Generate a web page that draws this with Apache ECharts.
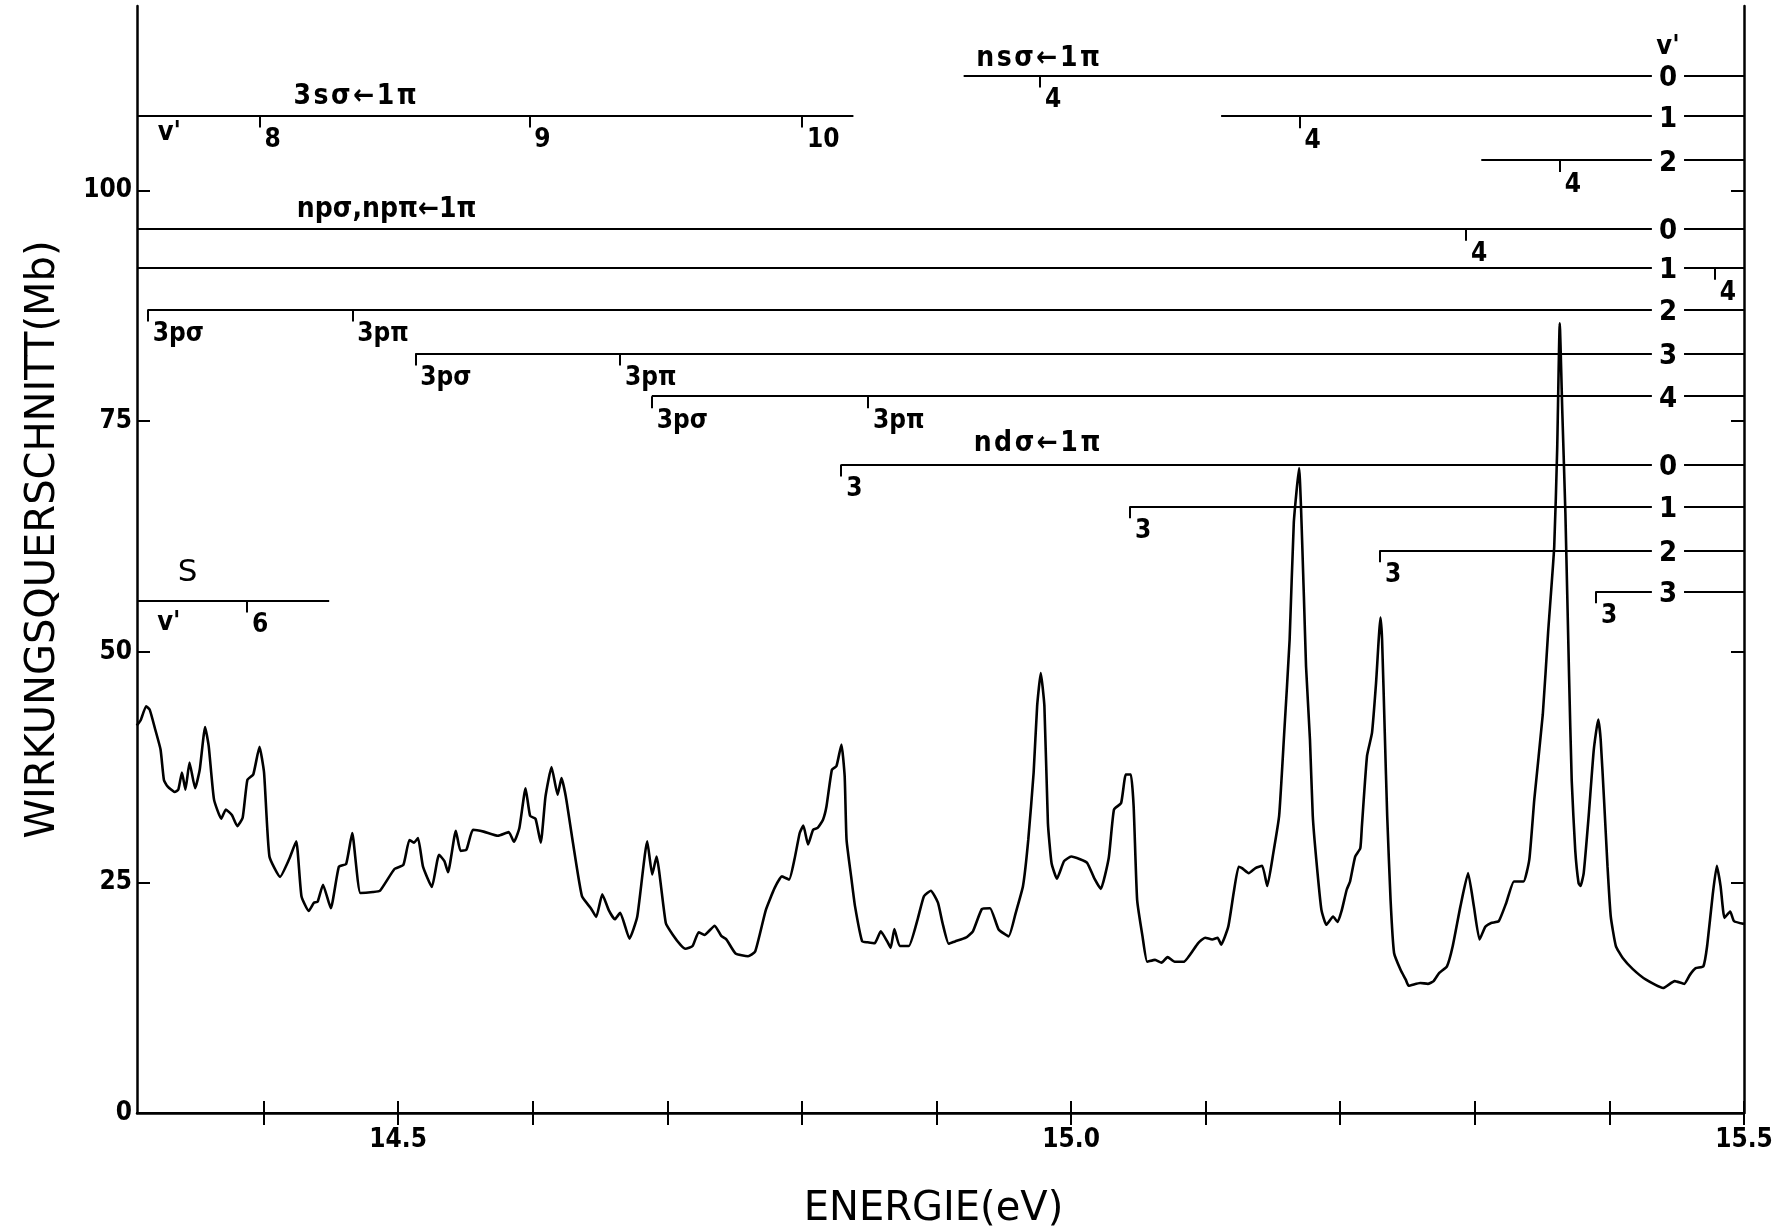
<!DOCTYPE html>
<html><head><meta charset="utf-8">
<script src="https://cdn.jsdelivr.net/npm/echarts@6/dist/echarts.min.js"></script>
<style>html,body{margin:0;padding:0;background:#fff}#c{width:1779px;height:1227px}</style>
</head><body><div id="c"></div>
<script>
// ---------- spectrum ----------
const energy = [
14.3058,14.3088,14.3128,14.3155,14.3195,14.3235,14.3260,14.3287,14.3340,14.3367,
14.3394,14.3420,14.3450,14.3492,14.3526,14.3566,14.3593,14.3632,14.3686,14.3720,
14.3765,14.3805,14.3845,14.3880,14.3924,14.3970,14.4004,14.4044,14.4123,14.4190,
14.4243,14.4282,14.4336,14.4375,14.4402,14.4442,14.4500,14.4560,14.4614,14.4659,
14.4720,14.4813,14.4866,14.4973,14.5039,14.5084,14.5118,14.5148,14.5185,14.5251,
14.5304,14.5344,14.5371,14.5429,14.5464,14.5508,14.5556,14.5636,14.5742,14.5822,
14.5861,14.5901,14.5947,14.5981,14.6021,14.6060,14.6095,14.6140,14.6185,14.6214,
14.6246,14.6299,14.6366,14.6432,14.6472,14.6517,14.6565,14.6610,14.6650,14.6719,
14.6777,14.6851,14.6888,14.6920,14.6989,14.7042,14.7100,14.7135,14.7188,14.7233,
14.7276,14.7352,14.7401,14.7440,14.7507,14.7600,14.7653,14.7732,14.7798,14.7852,
14.7905,14.7945,14.7984,14.8011,14.8046,14.8083,14.8117,14.8157,14.8183,14.8223,
14.8257,14.8294,14.8318,14.8332,14.8369,14.8395,14.8448,14.8488,14.8541,14.8586,
14.8634,14.8660,14.8687,14.8727,14.8794,14.8860,14.8907,14.8958,14.9011,14.9045,
14.9091,14.9138,14.9218,14.9271,14.9337,14.9398,14.9462,14.9536,14.9589,14.9643,
14.9682,14.9722,14.9748,14.9775,14.9802,14.9828,14.9855,14.9895,14.9948,15.0001,
15.0067,15.0120,15.0174,15.0221,15.0280,15.0319,15.0372,15.0407,15.0444,15.0465,
15.0491,15.0531,15.0566,15.0624,15.0672,15.0717,15.0770,15.0837,15.0943,15.0996,
15.1049,15.1089,15.1115,15.1168,15.1208,15.1245,15.1270,15.1320,15.1370,15.1420,
15.1458,15.1503,15.1546,15.1583,15.1624,15.1655,15.1694,15.1730,15.1746,15.1775,
15.1796,15.1822,15.1860,15.1897,15.1947,15.1980,15.2010,15.2048,15.2073,15.2111,
15.2149,15.2161,15.2199,15.2236,15.2266,15.2299,15.2311,15.2331,15.2349,15.2374,
15.2400,15.2449,15.2487,15.2508,15.2594,15.2651,15.2694,15.2736,15.2793,15.2836,
15.2893,15.2950,15.2993,15.3035,15.3078,15.3121,15.3178,15.3234,15.3291,15.3362,
15.3405,15.3442,15.3505,15.3545,15.3590,15.3612,15.3631,15.3650,15.3673,15.3700,
15.3720,15.3746,15.3771,15.3785,15.3809,15.3846,15.3884,15.3917,15.3935,15.3960,
15.3986,15.4010,15.4048,15.4099,15.4174,15.4272,15.4399,15.4485,15.4556,15.4599,
15.4641,15.4698,15.4726,15.4769,15.4798,15.4826,15.4855,15.4897,15.4926,15.5000
];
const sigma = [
42.0,42.6,44.1,43.7,41.6,39.4,36.1,35.4,34.8,35.05,
36.9,35.05,38.0,35.2,37.2,41.85,39.75,34.0,31.9,32.9,
32.3,31.1,32.0,36.1,36.7,39.7,36.9,27.8,25.6,27.5,
29.45,23.5,21.9,22.8,22.9,24.75,22.2,26.7,27.0,30.35,
23.85,23.95,24.1,26.45,26.9,29.6,29.3,29.8,26.7,24.5,
28.0,27.3,26.1,30.6,28.4,28.55,30.7,30.5,30.05,30.45,
29.4,30.9,35.2,32.2,31.9,29.3,34.3,37.5,34.5,36.3,
34.3,29.3,23.5,22.2,21.25,23.7,22.0,21.0,21.7,18.9,
21.3,29.45,25.85,27.8,20.6,19.3,18.2,17.8,18.1,19.6,
19.3,20.3,19.2,18.8,17.3,17.0,17.5,22.0,24.4,25.65,
25.3,27.5,30.35,31.15,29.1,30.7,30.9,31.8,33.25,37.2,
37.6,39.95,36.5,29.6,25.3,22.4,18.6,18.5,18.4,19.7,
18.6,17.9,19.95,18.1,18.1,21.0,23.5,24.1,22.8,20.6,
18.35,18.6,19.0,19.7,22.1,22.2,19.9,19.15,21.7,24.6,
29.6,36.9,44.1,47.7,44.1,31.45,27.1,25.4,27.3,27.8,
27.5,27.1,25.4,24.3,27.65,32.9,33.6,36.7,36.7,33.25,
23.1,19.15,16.4,16.6,16.3,16.9,16.4,16.4,18.4,19.0,
18.8,19.0,18.25,20.2,23.85,26.7,26.55,26.0,26.55,26.8,
24.6,28.2,32.2,41.0,51.3,64.0,69.9,56.0,48.4,40.5,
32.2,27.5,22.05,20.4,21.3,20.7,21.9,24.2,25.1,27.8,
28.7,31.1,38.7,41.2,46.6,53.7,51.3,41.2,32.2,23.1,
17.35,15.5,14.45,13.8,14.1,14.0,14.3,15.2,15.9,18.1,
22.4,26.0,22.4,18.8,20.2,20.6,20.8,22.8,25.1,25.1,
27.5,34.0,43.2,52.2,61.4,72.0,85.6,76.0,65.0,47.5,
36.0,28.5,24.9,24.6,26.0,32.2,39.4,42.65,40.5,34.0,
26.7,21.3,18.1,16.8,15.6,14.45,13.55,14.3,14.0,15.0,
15.7,15.9,18.1,23.85,26.8,24.6,21.15,21.85,20.8,20.5
];

// ---------- axes ----------
const xMin = 14.306, xMax = 15.5;
const yMin = 0, yMax = 120;
const xTicks = [14.4,14.5,14.6,14.7,14.8,14.9,15.0,15.1,15.2,15.3,15.4,15.5];
const xTickLabels = [14.5,15.0,15.5];
const yTicks = [0,25,50,75,100];
const yRightTicks = [25,50,75,100];

// ---------- term-value progressions ----------
// 3sσ←1π
const s3Level = 108.13;
const s3Span = [14.306, 14.8383];
const s3Marks = [14.3971, 14.5975, 14.8001];
const s3MarkLabels = ['8','9','10'];
// npσ,npπ←1π  (v' = 0..4)
const npLevels = [95.85, 91.62, 87.10, 82.33, 77.70];
const npStarts = [14.306, 14.306, 14.3140, 14.5128, 14.6885];
const npMarkE = [14.3140, 14.4660, 14.5128, 14.6649, 14.6885, 14.8491, 15.2935, 15.4783];
const npMarkV = [2, 2, 3, 3, 4, 4, 0, 1];
const npMarkLabels = ['3pσ','3pπ','3pσ','3pπ','3pσ','3pπ','4','4'];
const npVLabels = ['0','1','2','3','4'];
// nsσ←1π  (v' = 0..2)
const nsLevels = [112.47, 108.06, 103.30];
const nsStarts = [14.9202, 15.1115, 15.3048];
const nsMarkE = [14.9770, 15.1698, 15.3631];
const nsMarkLabels = ['4','4','4'];
const nsVLabels = ['0','1','2'];
// ndσ←1π  (v' = 0..3)
const ndLevels = [70.29, 65.77, 61.00, 56.55];
const ndStarts = [14.8292, 15.0438, 15.2295, 15.3901];
const ndMarkLabels = ['3','3','3','3'];
const ndVLabels = ['0','1','2','3'];
// S
const sLevel = 55.55;
const sSpan = [14.306, 14.4488];
const sMarks = [14.3877];
const sMarkLabels = ['6'];

// ---------- styling ----------
const COND = "'DejaVu Sans Condensed','DejaVu Sans',sans-serif";
const PLAIN = "'DejaVu Sans',sans-serif";
const HS = '\u200A';             // hair space (the printed titles are loosely spaced)
const TICK_DROP = 1.3;           // length of the hanging marks, in axis units
const vColumnE = 15.4435;        // column of v' numbers at the right

const segs = [];
const addSeg = (x1, y1, x2, y2) => segs.push({coords: [[x1, y1], [x2, y2]]});
addSeg(s3Span[0], s3Level, s3Span[1], s3Level);
npLevels.forEach((v, i) => addSeg(npStarts[i], v, xMax, v));
nsLevels.forEach((v, i) => addSeg(nsStarts[i], v, xMax, v));
ndLevels.forEach((v, i) => addSeg(ndStarts[i], v, xMax, v));
addSeg(sSpan[0], sLevel, sSpan[1], sLevel);

const marks = [];   // [E, level, label]
s3Marks.forEach((e, i) => marks.push([e, s3Level, s3MarkLabels[i]]));
npMarkE.forEach((e, i) => marks.push([e, npLevels[npMarkV[i]], npMarkLabels[i]]));
nsMarkE.forEach((e, i) => marks.push([e, nsLevels[i], nsMarkLabels[i]]));
ndStarts.forEach((e, i) => marks.push([e, ndLevels[i], ndMarkLabels[i]]));
sMarks.forEach((e, i) => marks.push([e, sLevel, sMarkLabels[i]]));
marks.forEach(m => addSeg(m[0], m[1], m[0], m[1] - TICK_DROP));

const texts = [];
const txt = (e, v, s, lab) => texts.push({value: [e, v], label: Object.assign({
  show: true, position: 'inside', formatter: s, color: '#000', opacity: 1,
  textBorderWidth: 0, textBorderColor: 'transparent', textShadowBlur: 0}, lab)});
const spaced = s => s.split('').join(HS);
// mark labels: hanging to the lower right of each mark
marks.forEach(m => txt(m[0], m[1], m[2], {
  align: 'left', verticalAlign: 'top', offset: [5, 12],
  fontFamily: COND, fontWeight: 'bold', fontSize: 26, lineHeight: 26}));
// v' numbers at the right (they interrupt the lines)
const vcol = {align: 'center', verticalAlign: 'middle', offset: [0, 3], fontFamily: COND, fontWeight: 'bold',
  fontSize: 29, lineHeight: 29, backgroundColor: '#fff', padding: [0, 7]};
nsLevels.forEach((v, i) => txt(vColumnE, v, nsVLabels[i], vcol));
npLevels.forEach((v, i) => txt(vColumnE, v, npVLabels[i], vcol));
ndLevels.forEach((v, i) => txt(vColumnE, v, ndVLabels[i], vcol));
// titles and v' headers
const ttl = {align: 'center', verticalAlign: 'middle', fontFamily: COND, fontWeight: 'bold', fontSize: 28};
txt(14.4681, 110.2, spaced('3sσ←1π'), ttl);
txt(14.4915, 97.9, 'npσ,npπ←1π', ttl);
txt(14.9755, 114.3, spaced('nsσ←1π'), ttl);
txt(14.9747, 72.5, spaced('ndσ←1π'), ttl);
txt(14.3436, 58.58, 'S', {align: 'center', verticalAlign: 'middle', fontFamily: PLAIN, fontSize: 31});
const vh = {align: 'center', verticalAlign: 'middle', fontFamily: COND, fontWeight: 'bold', fontSize: 27};
txt(14.3300, 106.2, "v'", vh);
txt(14.3297, 53.16, "v'", vh);
txt(vColumnE, 115.6, "v'", vh);

const chart = echarts.init(document.getElementById('c'), null, {renderer: 'canvas'});
const axisCommon = {
  type: 'value', min: xMin, max: xMax, splitLine: {show: false},
  axisLine: {show: true, lineStyle: {color: '#000', width: 2.5}},
  axisTick: {show: true, inside: true, length: 12, lineStyle: {color: '#000', width: 2}, customValues: xTicks}
};
chart.setOption({
  animation: false,
  backgroundColor: '#fff',
  grid: {left: 137, right: 35, top: 6, bottom: 114, containLabel: false, outerBoundsMode: 'none'},
  xAxis: [
    Object.assign({}, axisCommon, {
      position: 'bottom',
      axisLabel: {show: true, customValues: xTickLabels, formatter: v => v.toFixed(1), color: '#000',
        fontFamily: COND, fontWeight: 'bold', fontSize: 26, margin: 14},
      name: 'ENERGIE(eV)', nameLocation: 'middle', nameGap: 77,
      nameTextStyle: {color: '#000', fontFamily: PLAIN, fontSize: 40, padding: [0, 14, 0, 0]}
    }),
    Object.assign({}, axisCommon, {position: 'top', axisLabel: {show: false},
      axisLine: {show: true, lineStyle: {color: '#000', width: 2}}})
  ],
  yAxis: [
    {type: 'value', min: yMin, max: yMax, position: 'left', splitLine: {show: false},
      axisLine: {show: true, lineStyle: {color: '#000', width: 2.5}},
      axisTick: {show: true, inside: true, length: 13, lineStyle: {color: '#000', width: 2}, customValues: yTicks},
      axisLabel: {show: true, customValues: yTicks, color: '#000', fontFamily: COND, fontWeight: 'bold', fontSize: 26, margin: 5},
      name: 'WIRKUNGSQUERSCHNITT(Mb)', nameLocation: 'middle', nameGap: 73,
      nameTextStyle: {color: '#000', fontFamily: PLAIN, fontSize: 40, padding: [0, 0, 0, 40]}
    },
    {type: 'value', min: yMin, max: yMax, position: 'right', splitLine: {show: false},
      axisLine: {show: true, lineStyle: {color: '#000', width: 2.5}},
      axisTick: {show: true, inside: true, length: 13, lineStyle: {color: '#000', width: 2}, customValues: yRightTicks},
      axisLabel: {show: false}}
  ],
  series: [
    {type: 'lines', coordinateSystem: 'cartesian2d', xAxisIndex: 0, yAxisIndex: 0, polyline: false,
      silent: true, z: 2, data: segs, effect: {show: false},
      lineStyle: {color: '#000', width: 2, opacity: 1, curveness: 0}},
    {type: 'line', xAxisIndex: 0, yAxisIndex: 0, data: energy.map((e, i) => [e, sigma[i]]),
      symbol: 'none', silent: true, z: 3, smooth: 0.15, lineStyle: {color: '#000', width: 2.6}},
    {type: 'scatter', xAxisIndex: 0, yAxisIndex: 0, symbolSize: 1, silent: true, z: 5,
      itemStyle: {color: 'rgba(0,0,0,0)', opacity: 1}, data: texts}
  ]
});
</script></body></html>
